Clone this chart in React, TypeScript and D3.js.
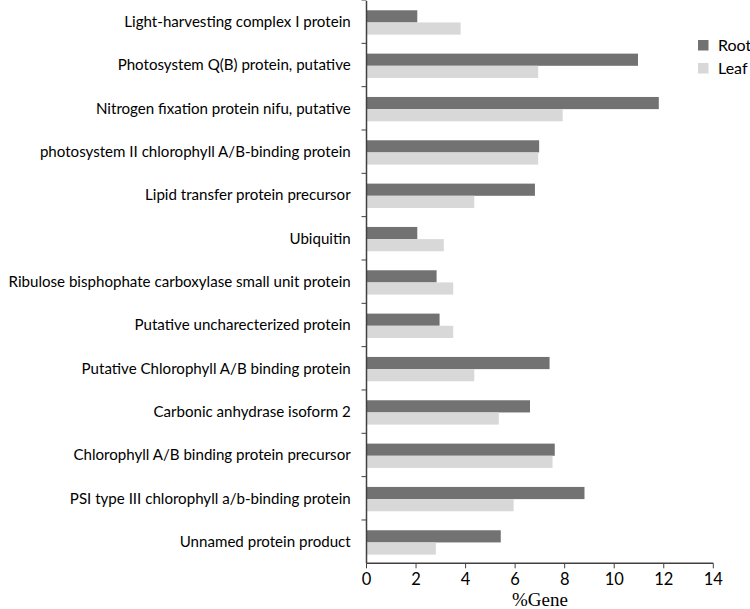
import * as d3 from 'd3';

const categories = [
  'Light-harvesting complex I protein',
  'Photosystem Q(B) protein, putative',
  'Nitrogen fixation protein nifu, putative',
  'photosystem II chlorophyll A/B-binding protein',
  'Lipid transfer protein precursor',
  'Ubiquitin',
  'Ribulose bisphophate carboxylase small unit protein',
  'Putative uncharecterized protein',
  'Putative Chlorophyll A/B binding protein ',
  'Carbonic anhydrase isoform 2',
  'Chlorophyll A/B binding protein precursor',
  'PSI type III chlorophyll a/b-binding protein',
  'Unnamed protein product',
];

const rootValues = [2.05, 10.96, 11.8, 6.97, 6.8, 2.05, 2.83, 2.95, 7.39, 6.6, 7.6, 8.8, 5.42];
const leafValues = [3.8, 6.93, 7.92, 6.93, 4.35, 3.12, 3.5, 3.5, 4.35, 5.34, 7.51, 5.94, 2.8];

const seriesNames = ['Root', 'Leaf'];
const seriesColors = ['#727272', '#d8d8d8'];
const xTicks = [0, 2, 4, 6, 8, 10, 12, 14];

export default function App() {
  const width = 750,
    height = 609,
    marginTop = 0,
    marginLeft = 366.5,
    marginRight = 36.7,
    marginBottom = 45.7;

  const x = d3
    .scaleLinear()
    .domain([0, 14])
    .range([marginLeft, width - marginRight]);

  const y = d3
    .scaleBand()
    .domain(categories)
    .range([marginTop, height - marginBottom])
    .padding(0);

  const inner = d3
    .scaleBand()
    .domain(seriesNames)
    .range([0, y.bandwidth()])
    .paddingOuter(0.78)
    .paddingInner(0);

  const series = [rootValues, leafValues];
  const labelFont = 'Lato, "Open Sans", sans-serif';
  const axisColor = '#404040';
  const bottom = height - marginBottom;

  return (
    <svg
      width={width}
      height={height}
      viewBox={`0 0 ${width} ${height}`}
      style={{ position: 'absolute', left: 0, top: 0, background: '#fff' }}
    >
      {series.map((vals, si) =>
        categories.map((c, i) => (
          <rect
            key={`${si}-${i}`}
            x={x(0)}
            y={(y(c) ?? 0) + (inner(seriesNames[si]) ?? 0) + 0.8}
            width={x(vals[i]) - x(0)}
            height={inner.bandwidth()}
            fill={seriesColors[si]}
          />
        ))
      )}

      {/* y axis */}
      <line x1={x(0)} x2={x(0)} y1={marginTop + 1} y2={bottom} stroke={axisColor} strokeWidth={1.5} />
      {categories.map((c, i) => (
        <line
          key={`yt${i}`}
          x1={x(0) - 5}
          x2={x(0)}
          y1={y(c) ?? 0}
          y2={y(c) ?? 0}
          stroke={axisColor}
          strokeWidth={1}
        />
      ))}
      {categories.map((c) => (
        <text
          key={c}
          x={350.7}
          y={(y(c) ?? 0) + y.bandwidth() / 2}
          dy="0.35em"
          textAnchor="end"
          fontFamily={labelFont}
          fontSize={15.1}
          fill="#000"
        >
          {c}
        </text>
      ))}

      {/* x axis */}
      <line x1={x(0)} x2={x(14)} y1={bottom} y2={bottom} stroke={axisColor} strokeWidth={1.5} />
      {xTicks.map((t) => (
        <g key={t}>
          <line x1={x(t)} x2={x(t)} y1={bottom} y2={bottom + 5} stroke={axisColor} strokeWidth={1} />
          <text
            x={x(t)}
            y={bottom + 22}
            textAnchor="middle"
            fontFamily={labelFont}
            fontSize={16.5}
            fill="#000"
          >
            {t}
          </text>
        </g>
      ))}
      <text
        x={540}
        y={606}
        textAnchor="middle"
        fontFamily='"Liberation Serif", "Times New Roman", serif'
        fontSize={19}
        fill="#000"
      >
        %Gene
      </text>

      {/* legend */}
      {seriesNames.map((s, i) => (
        <g key={s} transform={`translate(698,${40 + i * 23})`}>
          <rect width={10.5} height={10.5} fill={seriesColors[i]} />
          <text x={20} y={10.5} fontFamily={labelFont} fontSize={16} fill="#000">
            {s}
          </text>
        </g>
      ))}
    </svg>
  );
}
